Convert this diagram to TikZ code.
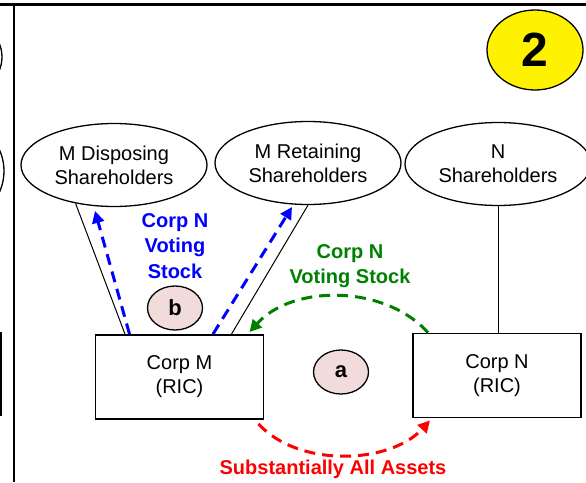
\documentclass[tikz,border=0pt]{standalone}
\usepackage{fontspec}
\setmainfont{Liberation Sans}
\usetikzlibrary{arrows.meta,shapes.geometric,calc}
\definecolor{lblpink}{RGB}{242,220,219}
\definecolor{dgreen}{RGB}{0,128,0}
\newcommand\normtext{\fontsize{20}{24}\selectfont}
\newcommand\labtext{\fontsize{20}{25.5}\selectfont\bfseries}
\newcommand\tagtext{\fontsize{22}{22}\selectfont\bfseries}
\newcommand\bignum{\fontsize{48}{48}\selectfont\bfseries}
\begin{document}
\begin{tikzpicture}[x=1pt,y=-1pt,
  sh/.style={ellipse,draw,line width=1.3pt,minimum width=186pt,minimum height=83pt,inner sep=0pt,align=center,font=\normtext},
  corp/.style={rectangle,draw,line width=1.8pt,minimum width=168pt,minimum height=84pt,inner sep=0pt,align=center,font=\normtext},
  tag/.style={ellipse,draw,line width=1.3pt,fill=lblpink,minimum width=55pt,minimum height=44pt,inner sep=0pt,font=\tagtext},
  link/.style={line width=1pt},
  flow/.style={line width=3pt,dash pattern=on 11pt off 7pt,-{Triangle[length=12pt,width=12pt]}},
  lab/.style={align=center,font=\labtext,inner sep=0pt}]
\useasboundingbox (0,0) rectangle (586,482);
\clip (0,0) rectangle (586,482);
\fill[white] (0,0) rectangle (586,482);
% frame
\draw[line width=3pt] (0,4) -- (586,4);
\draw[line width=2.2pt] (14,4) -- (14,482);
% partial shapes at the left edge
\draw[line width=1.3pt] (-45,57) ellipse [x radius=47, y radius=40];
\draw[line width=1.3pt] (-30,171) ellipse [x radius=34, y radius=42];
\draw[line width=1.8pt] (-100,333) rectangle (1,415);
% nodes
\node[ellipse,draw,line width=1.3pt,fill=yellow,minimum width=96pt,minimum height=80pt,inner sep=0pt,font=\bignum] (two) at (535,50) {2};
\node[sh] (md) at (114,165) {M Disposing\\Shareholders};
\node[sh] (mr) at (308,163) {M Retaining\\Shareholders};
\node[sh] (ns) at (498,164) {N\\Shareholders};
\node[corp] (cm) at (179.5,377) {Corp M\\(RIC)};
\node[corp] (cn) at (497,375.5) {Corp N\\(RIC)};
\node[tag] (ta) at (341,372) {a};
\node[tag] (tb) at (175,308) {b};
\node[lab,text=blue] (bl) at (175,246) {Corp N\\Voting\\Stock};
\node[lab,text=dgreen] (gl) at (350,266) {Corp N\\Voting Stock};
\node[lab,text=red] (rl) at (333,469) {Substantially All Assets};
% ownership lines
\draw[link] (md.225) -- ([xshift=-54.5pt]cm.north);
\draw[link] (mr.south) -- ([xshift=52pt]cm.north);
\draw[link] (ns.south) -- (ns.south |- cn.north);
% flows
\draw[flow,blue] ([xshift=-50pt]cm.north) -- ($(md.center)+(-19,46)$);
\draw[flow,blue] ([xshift=33.5pt]cm.north) -- ($(mr.center)+(-16,44)$);
\draw[flow,dgreen] ([xshift=-69pt]cn.north) .. controls +(-43,-48) and +(43,-48) .. ([xshift=70pt,yshift=2pt]cm.north);
\draw[flow,red] ([xshift=79pt,yshift=-4pt]cm.south) .. controls +(40,44) and +(-40,44) .. ([xshift=-67pt,yshift=-2pt]cn.south);
\end{tikzpicture}
\end{document}
